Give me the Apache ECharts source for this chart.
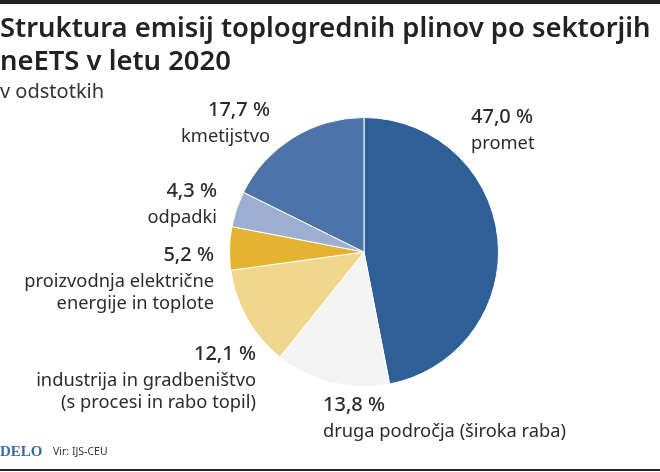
<!DOCTYPE html>
<html>
<head>
<meta charset="utf-8">
<style>
  html, body { margin: 0; padding: 0; background: #fff; }
  #main { width: 660px; height: 472px; }
</style>
</head>
<body>
<div id="main"></div>
<script src="https://cdn.jsdelivr.net/npm/echarts@6/dist/echarts.min.js"></script>
<script>
let sectors = ['promet', 'druga področja (široka raba)', 'industrija in gradbeništvo\n(s procesi in rabo topil)', 'proizvodnja električne\nenergije in toplote', 'odpadki', 'kmetijstvo'];
let shares = [47.0, 13.8, 12.1, 5.2, 4.3, 17.7];
let colors = ['#2e5f96', '#f3f3f4', '#f1d68d', '#e6b330', '#9dafd0', '#4c74a8'];
let labelAnchors = [[471, 102, 'left'], [323, 390, 'left'], [256, 339, 'right'], [214, 240, 'right'], [217, 176, 'right'], [270, 95, 'right']];

let textFont = '"Noto Sans", sans-serif';
let textColor = '#2b2b2b';

function richLine(name) {
  return name.split('\n').map(function (line) { return '{name|' + line + '}'; }).join('\n');
}

let chartDom = document.getElementById('main');
let myChart = echarts.init(chartDom);

let option = {
  animation: false,
  backgroundColor: '#fff',
  title: [
    {
      text: 'Struktura emisij toplogrednih plinov po sektorjih\nneETS v letu 2020',
      left: 0,
      top: 13,
      padding: 0,
      textStyle: { fontFamily: textFont, fontWeight: 600, fontSize: 27.4, lineHeight: 33, color: '#222' }
    },
    {
      text: 'v odstotkih',
      left: 0,
      top: 82,
      padding: 0,
      textStyle: { fontFamily: textFont, fontWeight: 400, fontSize: 20, color: '#333' }
    },
    {
      text: 'DELO',
      left: 0,
      top: 445,
      padding: 0,
      textStyle: { fontFamily: '"Liberation Serif", serif', fontWeight: 700, fontSize: 15, color: '#3d6a9c' }
    },
    {
      text: 'Vir: IJS-CEU',
      left: 53,
      top: 447,
      padding: 0,
      textStyle: { fontFamily: textFont, fontWeight: 400, fontSize: 10.5, color: '#333' }
    }
  ],
  graphic: [
    { type: 'rect', shape: { x: 0, y: 0, width: 660, height: 4 }, style: { fill: '#222' } },
    { type: 'rect', shape: { x: 0, y: 469, width: 660, height: 2 }, style: { fill: '#222' } }
  ],
  series: [
    {
      type: 'pie',
      center: [364, 252],
      radius: [0, 134.5],
      startAngle: 90,
      clockwise: true,
      itemStyle: { borderColor: '#fff', borderWidth: 1 },
      labelLine: { show: false },
      label: {
        show: true,
        overflow: 'none',
        formatter: function (p) {
          return '{val|' + p.value.toFixed(1).replace('.', ',') + ' %}\n' + richLine(p.name);
        },
        rich: {
          val: { fontFamily: textFont, fontWeight: 500, fontSize: 20, lineHeight: 31, color: textColor },
          name: { fontFamily: textFont, fontSize: 18.3, lineHeight: 22, color: textColor }
        }
      },
      labelLayout: function (params) {
        let a = labelAnchors[params.dataIndex];
        return { x: a[0], y: a[1], align: a[2], verticalAlign: 'top' };
      },
      data: sectors.map(function (name, i) {
        return { name: name, value: shares[i], itemStyle: { color: colors[i] } };
      })
    }
  ]
};

myChart.setOption(option);
</script>
</body>
</html>
